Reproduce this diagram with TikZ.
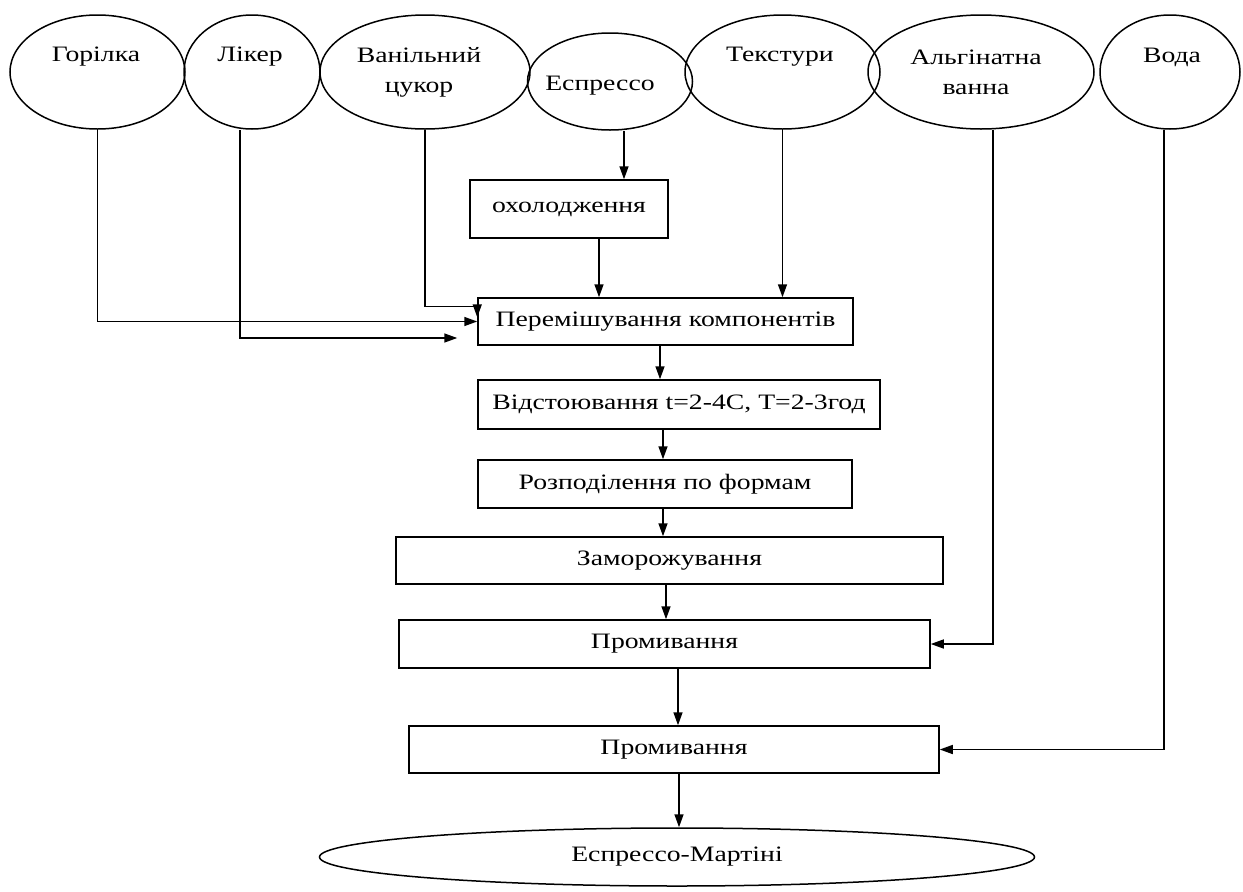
\documentclass[tikz,border=0pt]{standalone}
\usepackage{fontspec}
\setmainfont{Liberation Serif}[FakeStretch=1.26]
\usetikzlibrary{shapes.geometric,arrows.meta,calc}
\begin{document}
\begin{tikzpicture}[x=1pt,y=-1pt,
  txt/.style={font=\fontsize{22}{25}\selectfont},
  src/.style={draw, ellipse, line width=1.5pt, inner sep=0pt},
  proc/.style={draw, rectangle, line width=1.5pt, inner sep=0pt, txt},
  lbl/.style={inner sep=0pt, align=center, txt},
  flow/.style={-{Triangle[length=13pt,width=9pt]}, line width=1.5pt}]
\useasboundingbox (0,0) rectangle (1243,892);

% ingredient ellipses
\node[src, minimum width=175pt, minimum height=114pt] (gor) at (97.5,72) {};
\node[src, minimum width=136pt, minimum height=114pt] (lik) at (252,72) {};
\node[src, minimum width=210pt, minimum height=114pt] (van) at (425,72) {};
\node[src, minimum width=165pt, minimum height=97pt] (esp) at (610,81.5) {};
\node[src, minimum width=195pt, minimum height=114pt] (tex) at (782.5,72) {};
\node[src, minimum width=226pt, minimum height=114pt] (alg) at (981,72) {};
\node[src, minimum width=140pt, minimum height=114pt] (voda) at (1170,72) {};

\node[lbl] (gorT) at (96,57) {Горілка};
\node[lbl] (likT) at (250,57) {Лікер};
\node[lbl] (vanT) at (419,72) {Ванільний\\[5pt]цукор};
\node[lbl] (espT) at (600,86) {Еспрессо};
\node[lbl] (texT) at (780,57) {Текстури};
\node[lbl] (algT) at (976,72) {Альгінатна\\[5pt]ванна};
\node[lbl] (vodaT) at (1172,57) {Вода};

% process steps
\node[proc, minimum width=198pt, minimum height=58pt] (ox) at (569,209) {охолодження};
\node[proc, minimum width=375pt, minimum height=47pt] (mix) at (665.5,321.5) {Перемішування компонентів};
\node[proc, minimum width=402pt, minimum height=49pt] (vid) at (679,404.5) {Відстоювання t=2-4C, T=2-3год};
\node[proc, minimum width=374pt, minimum height=48pt] (roz) at (665,484) {Розподілення по формам};
\node[proc, minimum width=547pt, minimum height=47pt] (zam) at (669.5,560.5) {Заморожування};
\node[proc, minimum width=531pt, minimum height=48pt] (pr1) at (664.5,644) {Промивання};
\node[proc, minimum width=530pt, minimum height=47pt] (pr2) at (674,749.5) {Промивання};
\node[src, minimum width=715pt, minimum height=58pt, txt] (fin) at (677,857) {Еспрессо-Мартіні};

% helper points for offset connectors
\coordinate (likOut) at ($(lik.south)+(-12,0)$);
\coordinate (likEnd) at ($(mix.west)+(-20,16.5)$);
\coordinate (vanK) at ($(mix.north west)+(0,9)$);
\coordinate (espOut) at ($(esp.south)+(14,0)$);
\coordinate (oxOut) at ($(ox.south)+(30,0)$);
\coordinate (algOut) at ($(alg.south)+(12,0)$);
\coordinate (vodOut) at ($(voda.south)+(-6,0)$);
\coordinate (m1) at ($(mix.south)+(-5.5,0)$);
\coordinate (m2) at ($(vid.south)+(-16,0)$);
\coordinate (m3) at ($(roz.south)+(-2,0)$);
\coordinate (m4) at ($(zam.south)+(-3.5,0)$);
\coordinate (m5) at ($(pr1.south)+(13.5,0)$);
\coordinate (m6) at ($(pr2.south)+(5,0)$);

% connectors
\draw[flow] (gor.south) |- (mix.west);
\draw[flow] (likOut) |- (likEnd);
\draw[flow] (van.south) |- (vanK) -- ++(0,11);
\draw[flow] (espOut) -- (espOut |- ox.north);
\draw[flow] (oxOut) -- (oxOut |- mix.north);
\draw[flow] (tex.south) -- (tex.south |- mix.north);
\draw[flow] (m1) -- (m1 |- vid.north);
\draw[flow] (m2) -- (m2 |- roz.north);
\draw[flow] (m3) -- (m3 |- zam.north);
\draw[flow] (m4) -- (m4 |- pr1.north);
\draw[flow] (m5) -- (m5 |- pr2.north);
\draw[flow] (m6) -- (m6 |- fin.north);
\draw[flow] (algOut) |- (pr1.east);
\draw[flow] (vodOut) |- (pr2.east);
\end{tikzpicture}
\end{document}
